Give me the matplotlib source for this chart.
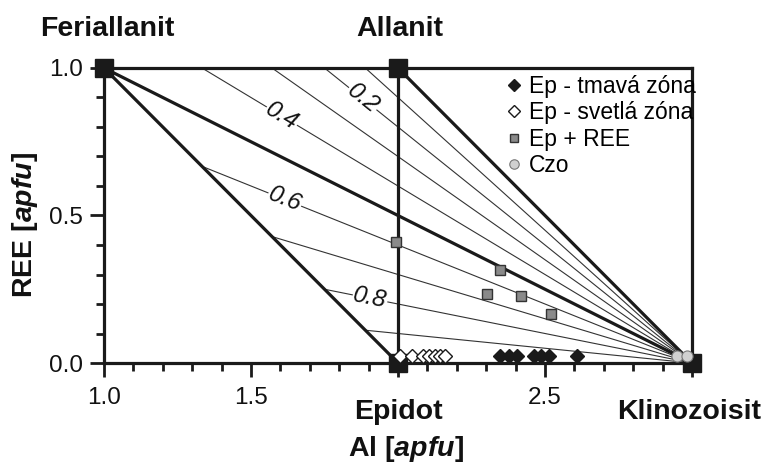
import numpy as np
import matplotlib
matplotlib.use("Agg")
import matplotlib.pyplot as plt
from matplotlib.ticker import MultipleLocator, FixedLocator

plt.rcParams['font.family'] = ['Liberation Sans', 'DejaVu Sans']
plt.rcParams['mathtext.fontset'] = 'custom'
plt.rcParams['mathtext.it'] = 'Liberation Sans:italic:bold'
plt.rcParams['mathtext.rm'] = 'Liberation Sans:bold'

# end members (Al, REE)
corner_names = ["Feriallanit", "Allanit", "Epidot", "Klinozoisit"]
corner_al = [1.0, 2.0, 2.0, 3.0]
corner_ree = [1.0, 1.0, 0.0, 0.0]

# ratio lines from Klinozoisit: REE = k * (3 - Al)
thin_k = [0.1, 0.2, 0.3, 0.4, 0.6, 0.7, 0.8, 0.9]
thick_k = [0.5, 1.0]
line_labels = ["0.2", "0.4", "0.6", "0.8"]
label_k = [0.8, 0.6, 0.4, 0.2]
label_al = [1.88, 1.605, 1.615, 1.905]

# analyses
ep_dark_al = [2.347, 2.379, 2.406, 2.463, 2.485, 2.515, 2.608]
ep_dark_ree = [0.023] * 7
ep_light_al = [2.007, 2.047, 2.086, 2.106, 2.126, 2.143, 2.16]
ep_light_ree = [0.023] * 7
ep_ree_al = [1.992, 2.347, 2.302, 2.418, 2.52]
ep_ree_ree = [0.41, 0.314, 0.235, 0.226, 0.167]
czo_al = [2.948, 2.984]
czo_ree = [0.023, 0.023]

W, H = 766, 465
fig = plt.figure(figsize=(W / 100, H / 100), dpi=100)
ax = fig.add_axes([104 / W, 1 - 363 / H, 588 / W, 295 / H])
ax.set_xlim(1, 3)
ax.set_ylim(0, 1)

dark = '#1a1a1a'


def boundary_start(k):
    # where the ratio line meets the upper / left boundary of the field
    if k >= 0.5:
        return 3 - 1 / k, 1.0
    x = (2 - 3 * k) / (1 - k)
    return x, 2 - x


for k in thin_k:
    x0, y0 = boundary_start(k)
    ax.plot([x0, 3], [y0, 0], color='#333333', lw=0.8, zorder=2)
for k in thick_k:
    x0, y0 = boundary_start(k)
    ax.plot([x0, 3], [y0, 0], color=dark, lw=2.3, zorder=3)

# field borders
ax.plot([1, 2], [1, 0], color=dark, lw=2.3, zorder=3)
ax.plot([2, 2], [0, 1], color=dark, lw=2.3, zorder=3)

for s in ax.spines.values():
    s.set_linewidth(2.3)
    s.set_color(dark)
    s.set_zorder(4)

for txt, k, xa in zip(line_labels, label_k, label_al):
    ya = k * (3 - xa)
    ang = ax.transData.transform_angles(np.array([np.degrees(np.arctan2(-k, 1))]),
                                        np.array([[xa, ya]]))[0]
    ax.text(xa, ya, txt, fontsize=17.5, style='italic', rotation=ang,
            rotation_mode='anchor', ha='center', va='center', color='#111111',
            bbox=dict(facecolor='white', edgecolor='none', pad=0.5), zorder=3.5)

ax.plot(corner_al, corner_ree, 's', ms=13, color=dark, ls='none', clip_on=False, zorder=5)

ax.plot(ep_dark_al, ep_dark_ree, 'D', ms=7, mfc=dark, mec=dark, ls='none',
        clip_on=False, zorder=6, label='Ep - tmavá zóna')
ax.plot(ep_light_al, ep_light_ree, 'D', ms=7, mfc='white', mec=dark, mew=1.0, ls='none',
        clip_on=False, zorder=6, label='Ep - svetlá zóna')
ax.plot(ep_ree_al, ep_ree_ree, 's', ms=7.5, mfc='#8a8a8a', mec='#333333', mew=1.0, ls='none',
        clip_on=False, zorder=6, label='Ep + REE')
ax.plot(czo_al, czo_ree, 'o', ms=8, mfc='#d0d0d0', mec='#777777', mew=0.8, ls='none',
        clip_on=False, zorder=6, label='Czo')

leg = ax.legend(loc='upper left', bbox_to_anchor=(507 / W, 1 - 75 / H),
                bbox_transform=fig.transFigure, frameon=False, fontsize=16.5,
                handlelength=0.6, handletextpad=0.35, labelspacing=0.15,
                borderpad=0, borderaxespad=0, markerscale=0.85)

# ticks
ax.xaxis.set_major_locator(FixedLocator([1.0, 1.5, 2.0, 2.5, 3.0]))
ax.xaxis.set_minor_locator(MultipleLocator(0.1))
ax.yaxis.set_major_locator(FixedLocator([0.0, 0.5, 1.0]))
ax.yaxis.set_minor_locator(MultipleLocator(0.1))
ax.set_xticklabels(['1.0', '1.5', '', '2.5', ''])
ax.set_yticklabels(['0.0', '0.5', '1.0'])
ax.tick_params(which='major', direction='out', length=10, width=2, labelsize=17.5,
               color=dark, labelcolor='#111111', pad=5)
ax.tick_params(which='minor', direction='out', length=6, width=2, color=dark)
ax.tick_params(axis='x', pad=7)

# end member names
fig.text(107 / W, 1 - 36 / H, corner_names[0], fontsize=20.5, fontweight='bold',
         ha='center', va='baseline', color='#111111')
fig.text(400 / W, 1 - 36 / H, corner_names[1], fontsize=20.5, fontweight='bold',
         ha='center', va='baseline', color='#111111')
fig.text(398 / W, 1 - 419 / H, corner_names[2], fontsize=20.5, fontweight='bold',
         ha='center', va='baseline', color='#111111')
fig.text(689 / W, 1 - 419 / H, corner_names[3], fontsize=20.5, fontweight='bold',
         ha='center', va='baseline', color='#111111')

fig.text(406 / W, 1 - 456 / H, r'Al [$\mathit{apfu}$]', fontsize=20.5, fontweight='bold',
         ha='center', va='baseline', color='#111111')
fig.text(25 / W, 1 - 225 / H, r'REE [$\mathit{apfu}$]', fontsize=20.5, fontweight='bold',
         ha='center', va='center', rotation=90, color='#111111')

fig.savefig('out.png', dpi=100)
